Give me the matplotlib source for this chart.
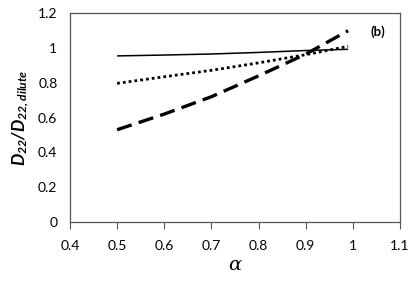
import matplotlib
matplotlib.use("Agg")
import matplotlib.pyplot as plt

alpha = [0.5, 0.6, 0.7, 0.8, 0.9, 0.99]
solid = [0.955, 0.960, 0.966, 0.975, 0.986, 0.993]
dotted = [0.797, 0.835, 0.872, 0.915, 0.962, 1.010]
dashed = [0.530, 0.620, 0.720, 0.840, 0.965, 1.100]
xticks = [0.4, 0.5, 0.6, 0.7, 0.8, 0.9, 1.0, 1.1]
xticklabels = ["0.4", "0.5", "0.6", "0.7", "0.8", "0.9", "1", "1.1"]
yticks = [0, 0.2, 0.4, 0.6, 0.8, 1.0, 1.2]
yticklabels = ["0", "0.2", "0.4", "0.6", "0.8", "1", "1.2"]

plt.rcParams['font.family'] = ['Lato', 'DejaVu Sans']
plt.rcParams['mathtext.fontset'] = 'custom'
plt.rcParams['mathtext.rm'] = 'Lato:bold:italic'
plt.rcParams['mathtext.it'] = 'Lato:bold:italic'
plt.rcParams['mathtext.bf'] = 'Lato:bold:italic'

fig = plt.figure(figsize=(4.14, 2.84), dpi=100)
ax = fig.add_axes([0.169, 0.219, 0.797, 0.734])

ax.plot(alpha, solid, color='black', lw=1.1, solid_capstyle='butt')
ax.plot(alpha, dotted, color='black', lw=2.0, linestyle=(0, (1.0, 1.1)))
ax.plot(alpha, dashed, color='black', lw=2.4, linestyle=(0, (4.6, 2.2)))

ax.set_xlim(0.4, 1.1)
ax.set_ylim(0, 1.2)
ax.set_xticks(xticks)
ax.set_xticklabels(xticklabels)
ax.set_yticks(yticks)
ax.set_yticklabels(yticklabels)
ax.tick_params(axis='x', direction='out', length=5, width=0.8, color='#555555', labelsize=10, pad=8)
ax.tick_params(axis='y', length=0, labelsize=10, pad=9)
for s in ax.spines.values():
    s.set_color('#555555')
    s.set_linewidth(0.9)

ax.set_xlabel('α', fontsize=14, family='DejaVu Serif', style='italic', labelpad=3)
ax.set_ylabel(r'$D_{22}/D_{22,dilute}$', fontsize=12.5, labelpad=5)
ax.text(378, 284 - 32, '(b)', transform=None, fontsize=9.5, fontweight='bold', ha='center', va='center')

fig.savefig('out.png', dpi=100)
